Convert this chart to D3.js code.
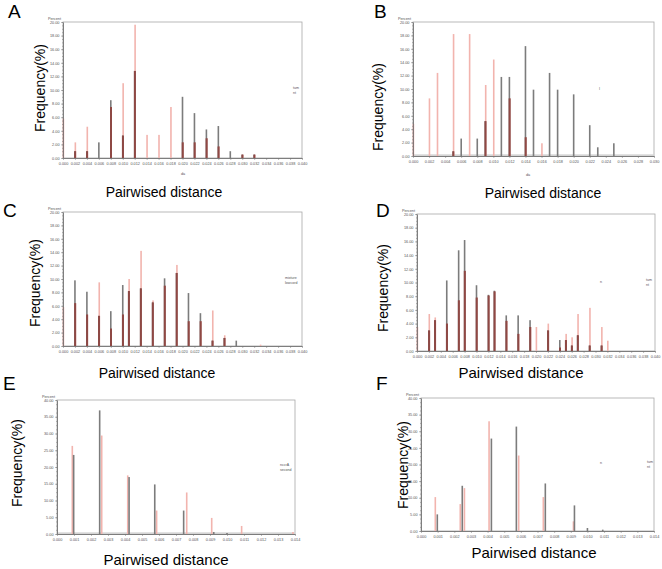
<!DOCTYPE html>
<html>
<head>
<meta charset="utf-8">
<script src="https://cdn.jsdelivr.net/npm/d3@7"></script>
<style>
  body { margin: 0; background: #fff; }
  svg { display: block; }
  text { font-family: "Liberation Sans", Arial, sans-serif; }
</style>
</head>
<body>
<div id="chart"></div>
<script>
// values (percent per pairwise distance)
// A, B, C, D: both series share the distance values
const aDist = [0.000, 0.002, 0.004, 0.006, 0.008, 0.010, 0.012, 0.014, 0.016, 0.018, 0.020, 0.022, 0.024, 0.026, 0.028, 0.030, 0.032];
const aGray = [0, 1.0, 1.0, 2.3, 8.5, 3.3, 12.8, 0, 0, 0, 9.0, 6.6, 4.2, 4.7, 1.0, 0.5, 0.5];
const aPink = [5.8, 2.3, 4.6, 0, 7.5, 11.0, 19.6, 3.4, 3.4, 7.5, 2.3, 2.3, 2.9, 1.7, 0, 0.5, 0.5];

const bDist = [0.000, 0.002, 0.003, 0.005, 0.006, 0.007, 0.008, 0.009, 0.010, 0.011, 0.012, 0.014, 0.015, 0.016, 0.017, 0.018, 0.020, 0.022, 0.023, 0.025];
const bGray = [0, 0, 0, 0.7, 2.6, 0, 2.6, 5.2, 0, 11.8, 11.8, 16.4, 9.9, 0, 12.4, 9.9, 9.2, 4.6, 1.3, 1.9];
const bPink = [4.8, 8.6, 12.4, 18.2, 0, 18.2, 0, 10.6, 14.4, 0, 8.6, 2.8, 0, 1.9, 0, 0, 0, 0, 0, 0];

const cDist = [0.000, 0.002, 0.004, 0.006, 0.008, 0.010, 0.011, 0.013, 0.015, 0.017, 0.019, 0.021, 0.023, 0.025, 0.027, 0.029, 0.033];
const cGray = [0, 9.8, 8.1, 4.5, 5.2, 9.1, 8.2, 8.6, 6.5, 10.1, 10.9, 7.9, 4.9, 0.8, 1.2, 0.8, 0];
const cPink = [5.8, 6.4, 4.7, 9.5, 2.6, 4.7, 10.0, 14.2, 6.8, 9.0, 12.1, 3.7, 3.7, 5.3, 1.6, 0, 0.2];

const dDist = [0.000, 0.002, 0.003, 0.005, 0.007, 0.008, 0.010, 0.012, 0.013, 0.015, 0.017, 0.019, 0.020, 0.022, 0.024, 0.025, 0.026, 0.027, 0.029, 0.031, 0.032];
const dGray = [0, 3.0, 4.5, 10.3, 14.7, 16.2, 9.6, 8.2, 8.8, 5.2, 5.2, 4.5, 0, 3.0, 1.6, 1.6, 0.8, 2.3, 0.8, 0.8, 0];
const dPink = [3.5, 5.4, 4.9, 4.0, 7.4, 11.7, 7.8, 8.1, 8.7, 4.4, 2.5, 3.5, 3.5, 4.0, 0.5, 2.5, 2.0, 5.4, 6.3, 3.5, 1.5];

// E, F: the two series sit at slightly different distances
const eGrayX = [0.00098, 0.00251, 0.00424, 0.00575, 0.00745, 0.00922, 0.0100];
const eGray  = [23.6, 36.9, 17.0, 14.8, 7.0, 0.6, 0.3];
const ePinkX = [0.00090, 0.00263, 0.00416, 0.00586, 0.00763, 0.0091, 0.01086, 0.01388];
const ePink  = [26.3, 29.4, 17.5, 7.0, 12.4, 4.8, 2.4, 0.6];

const fGrayX = [0.00098, 0.00248, 0.00423, 0.00573, 0.00747, 0.00922, 0.0100, 0.01092];
const fGray  = [5.0, 13.6, 27.8, 31.4, 14.3, 7.7, 0.9, 0.4];
const fPinkX = [0.00086, 0.00236, 0.00261, 0.00409, 0.00587, 0.00735, 0.00916];
const fPink  = [10.2, 8.1, 12.9, 33.0, 22.7, 10.2, 2.9];

const panelLetters = ["A", "B", "C", "D", "E", "F"];
const xTitle = "Pairwised distance";
const yTitle = "Frequency(%)";

const grayColor = "#7c7c7c";
const pinkColor = "#f2b4ae";
const overlapColor = "#8e4844";

let svg = d3.select("#chart").append("svg")
    .attr("width", 662)
    .attr("height", 569);

svg.append("rect").attr("width", 662).attr("height", 569).attr("fill", "#fff");

//layout of every panel, values come from the arrays above
const panels = [
    {letter: panelLetters[0], lx: 8, ly: 18, x0: 63, x1: 302, y0: 22, y1: 158, xMax: 0.040, xStep: 0.002, yMax: 20, yStep: 2,
     yl: [40, 88], xl: [164, 197], xlSize: 14, da: [183, 175], legend: [[293, 89, "tum"], [293, 94, "nt"]],
     gX: aDist, g: aGray, pX: aDist, p: aPink, shared: true},
    {letter: panelLetters[1], lx: 374, ly: 18, x0: 413, x1: 654, y0: 22, y1: 156, xMax: 0.030, xStep: 0.002, yMax: 20, yStep: 2,
     yl: [378, 107], xl: [543, 198], xlSize: 14, da: [528, 176], band: 0.25, legend: [[599, 90, "I"]],
     gX: bDist, g: bGray, pX: bDist, p: bPink, shared: true},
    {letter: panelLetters[2], lx: 3, ly: 217, x0: 63, x1: 302, y0: 212, y1: 346, xMax: 0.040, xStep: 0.002, yMax: 20, yStep: 2,
     yl: [35, 283], xl: [157, 378], xlSize: 14, legend: [[285, 279, "mixture"], [285, 284, "lowcord"]],
     gX: cDist, g: cGray, pX: cDist, p: cPink, shared: true},
    {letter: panelLetters[3], lx: 376, ly: 217, x0: 417, x1: 655, y0: 214, y1: 351, xMax: 0.040, xStep: 0.002, yMax: 20, yStep: 2,
     yl: [383, 288], xl: [521, 378], xlSize: 15, legend: [[600, 283, "n"], [646, 281, "tum"], [646, 286, "nt"]],
     gX: dDist, g: dGray, pX: dDist, p: dPink, shared: true},
    {letter: panelLetters[4], lx: 3, ly: 390, x0: 57, x1: 295, y0: 400, y1: 534, xMax: 0.014, xStep: 0.001, yMax: 40, yStep: 5,
     yl: [17, 463], xl: [166, 565], xlSize: 15, band: 0.5, legend: [[280, 466, "nccrA"], [280, 471, "second"]],
     gX: eGrayX, g: eGray, pX: ePinkX, p: ePink, shared: false},
    {letter: panelLetters[5], lx: 376, ly: 390, x0: 421, x1: 654, y0: 398, y1: 531, xMax: 0.014, xStep: 0.001, yMax: 40, yStep: 5,
     yl: [403, 465], xl: [534, 558], xlSize: 15, legend: [[600, 464, "n"], [647, 463, "tum"], [647, 468, "nt"]],
     gX: fGrayX, g: fGray, pX: fPinkX, p: fPink, shared: false}
];

panels.forEach(drawPanel);

function drawPanel(p) {
    let g = svg.append("g");
    let x = d3.scaleLinear().domain([0, p.xMax]).range([p.x0, p.x1]);
    let y = d3.scaleLinear().domain([0, p.yMax]).range([p.y1, p.y0]);

    //plot frame
    g.append("rect")
        .attr("x", p.x0).attr("y", p.y0)
        .attr("width", p.x1 - p.x0).attr("height", p.y1 - p.y0)
        .attr("fill", "none").attr("stroke", "#a8a8a8").attr("stroke-width", 0.8);

    if (p.band) {
        g.append("rect")
            .attr("x", p.x0).attr("y", y(p.band))
            .attr("width", p.x1 - p.x0).attr("height", y(0) - y(p.band) + 1)
            .attr("fill", "#d4d4d4");
    }

    //bars: pink, gray and the overlap of both drawn darker
    let bw = 1.6;
    let pinkData = d3.zip(p.pX, p.p).filter(d => d[1] > 0);
    let grayData = d3.zip(p.gX, p.g).filter(d => d[1] > 0);
    g.selectAll("rect.pink").data(pinkData).join("rect")
        .attr("class", "pink")
        .attr("x", d => x(d[0]) - bw / 2 + (p.shared ? 0.4 : 0))
        .attr("y", d => y(d[1]))
        .attr("width", bw)
        .attr("height", d => y(0) - y(d[1]))
        .attr("fill", pinkColor);
    g.selectAll("rect.gray").data(grayData).join("rect")
        .attr("class", "gray")
        .attr("x", d => x(d[0]) - bw / 2)
        .attr("y", d => y(d[1]))
        .attr("width", bw)
        .attr("height", d => y(0) - y(d[1]))
        .attr("fill", grayColor);
    if (p.shared) {
        let both = d3.zip(p.gX, p.g, p.p).filter(d => d[1] > 0 && d[2] > 0);
        g.selectAll("rect.both").data(both).join("rect")
            .attr("class", "both")
            .attr("x", d => x(d[0]) - bw / 2)
            .attr("y", d => y(Math.min(d[1], d[2])))
            .attr("width", bw + 0.4)
            .attr("height", d => y(0) - y(Math.min(d[1], d[2])))
            .attr("fill", overlapColor);
    }

    //axes
    let nx = Math.round(p.xMax / p.xStep);
    let ny = Math.round(p.yMax / p.yStep);
    let xa = g.append("g")
        .attr("transform", `translate(0,${p.y1})`)
        .call(d3.axisBottom(x)
            .tickValues(d3.range(nx + 1).map(i => i * p.xStep))
            .tickFormat(d3.format(".3f"))
            .tickSize(2).tickSizeOuter(0).tickPadding(2));
    let ya = g.append("g")
        .attr("transform", `translate(${p.x0},0)`)
        .call(d3.axisLeft(y)
            .tickValues(d3.range(ny + 1).map(i => i * p.yStep))
            .tickFormat(d3.format(".2f"))
            .tickSize(2).tickSizeOuter(0).tickPadding(1.5));
    //minor ticks on the value axis
    let minor = p.yStep / 4;
    g.append("g")
        .attr("transform", `translate(${p.x0},0)`)
        .call(d3.axisLeft(y)
            .tickValues(d3.range(Math.round(p.yMax / minor) + 1).map(i => i * minor))
            .tickFormat("").tickSize(1).tickSizeOuter(0))
        .select(".domain").remove();
    [xa, ya].forEach(a => {
        a.attr("font-size", 3.8).attr("font-family", "'Liberation Sans', Arial, sans-serif");
        a.selectAll("text").attr("fill", "#555");
        a.select(".domain").attr("stroke", "#666").attr("stroke-width", 0.8);
    });
    g.selectAll("g.tick line").attr("stroke", "#777").attr("stroke-width", 0.5);

    g.append("text")
        .attr("x", p.x0 - 2).attr("y", p.y0 - 2)
        .attr("text-anchor", "end")
        .attr("font-size", 3.8).attr("fill", "#555")
        .text("Percent");

    if (p.da) {
        g.append("text")
            .attr("x", p.da[0]).attr("y", p.da[1])
            .attr("text-anchor", "middle")
            .attr("font-size", 3.8).attr("fill", "#555")
            .text("da");
    }

    p.legend.forEach(l => {
        g.append("text")
            .attr("x", l[0]).attr("y", l[1])
            .attr("font-size", 3.6).attr("fill", "#555")
            .text(l[2]);
    });

    //panel letter and axis titles
    g.append("text")
        .attr("x", p.lx).attr("y", p.ly)
        .attr("font-size", 19).attr("fill", "#000")
        .text(p.letter);

    g.append("text")
        .attr("transform", `translate(${p.yl[0]},${p.yl[1]}) rotate(-90)`)
        .attr("text-anchor", "middle")
        .attr("dominant-baseline", "central")
        .attr("font-size", 14).attr("fill", "#000")
        .text(yTitle);

    g.append("text")
        .attr("x", p.xl[0]).attr("y", p.xl[1])
        .attr("text-anchor", "middle")
        .attr("font-size", p.xlSize).attr("fill", "#000")
        .text(xTitle);
}
</script>
</body>
</html>
